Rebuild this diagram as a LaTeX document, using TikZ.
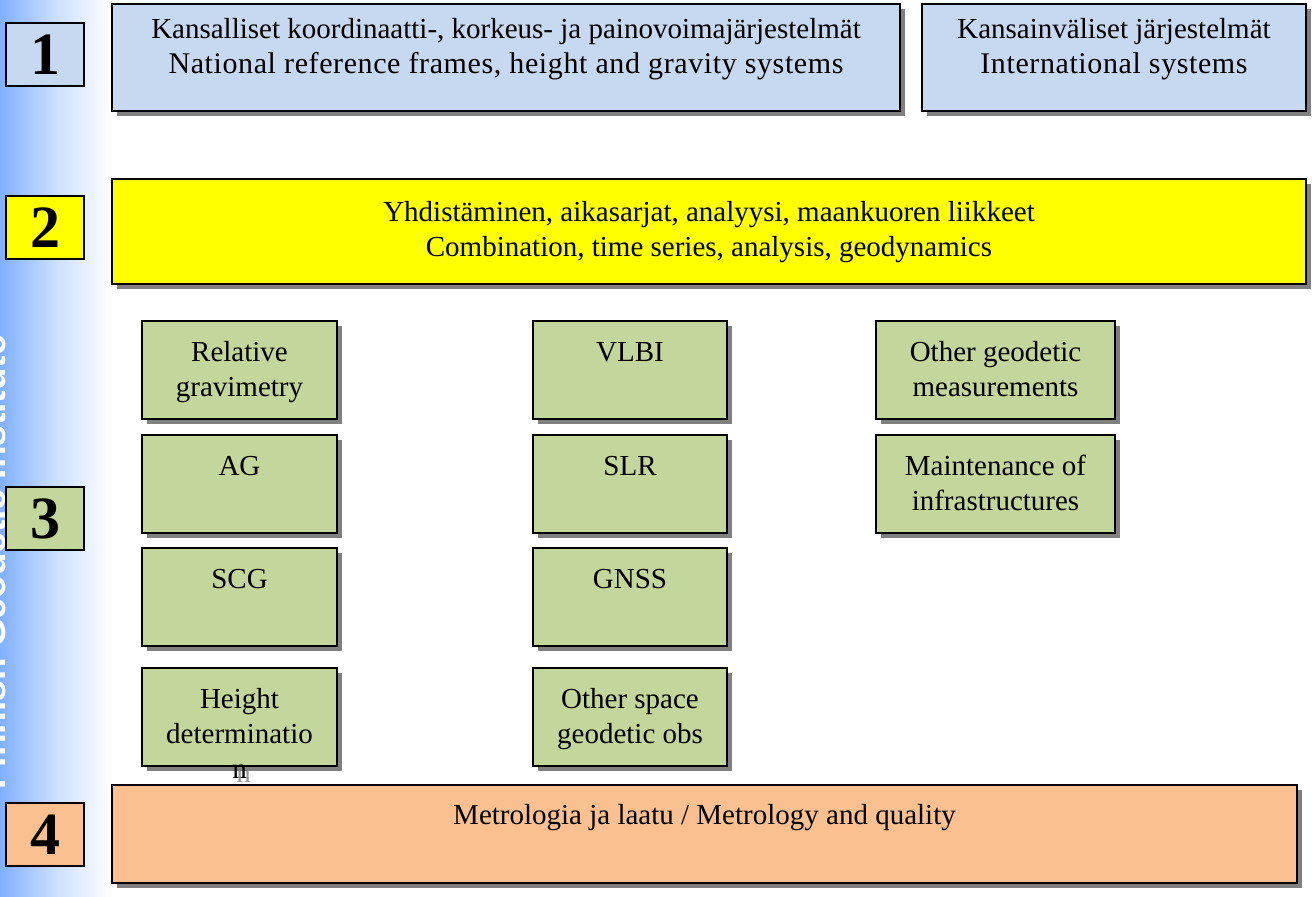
\documentclass[tikz,border=0pt]{standalone}
\usepackage{fontspec}
\setmainfont{Liberation Serif}
\newfontfamily\stripfont{Liberation Sans}
\usetikzlibrary{shadows}

\definecolor{frameblue}{RGB}{198,217,241}
\definecolor{combyellow}{RGB}{255,255,0}
\definecolor{obsgreen}{RGB}{195,214,155}
\definecolor{metorange}{RGB}{250,192,144}
\definecolor{stripblue}{RGB}{128,176,255}

% text hanging from the top of a box: width, height, top gap, lines
\newcommand{\boxtext}[4]{\parbox[c][#2][t]{#1}{\centering\vspace*{#3}\strut#4}}
\newcommand{\wideline}{\fontsize{15}{17.5}\selectfont\addfontfeature{LetterSpace=2}}

\begin{document}
\begin{tikzpicture}[x=0.5pt, y=-0.5pt, font=\fontsize{14.5}{17.5}\selectfont]
      \tikzstyle{panel}=[draw=black, line width=1pt, inner sep=0pt, anchor=north west,
        drop shadow={shadow xshift=2.5pt, shadow yshift=-2.5pt, fill=black!50, opacity=1}]
      \tikzstyle{obs}=[panel, fill=obsgreen]
      \tikzstyle{numbox}=[draw=black, line width=1pt, inner sep=0pt, anchor=north west,
        minimum width=39pt, minimum height=31.5pt, font=\fontsize{30}{32}\selectfont\bfseries]
      \useasboundingbox (0,0) rectangle (1312,896);
      % side strip
      \shade[left color=stripblue, right color=white, middle color=stripblue!40] (0,0) rectangle (112,896);
      \node[rotate=90, anchor=base west, text=white, inner sep=0pt,
        font=\stripfont\fontsize{18.5}{20}\selectfont\bfseries] (S_1) at (5,790) {Finnish Geodetic Institute};
      \node[anchor=base, inner sep=0pt, text=black!40] (G_n) at (243.5,782) {n};
      % row numbers
      \node[numbox, fill=frameblue]  (N_1) at (5,22)  {1};
      \node[numbox, fill=combyellow] (N_2) at (5,195) {2};
      \node[numbox, fill=obsgreen]   (N_3) at (5,486) {3};
      \node[numbox, fill=metorange]  (N_4) at (5,802) {4};
      % 1
      \node[panel, fill=frameblue] (R_1a) at (111,3) {\boxtext{394pt}{53.5pt}{4.75pt}{Kansalliset koordinaatti-, korkeus- ja painovoimajärjestelmät\\{\wideline National reference frames, height and gravity systems}}};
      \node[panel, fill=frameblue] (R_1b) at (921,3) {\boxtext{192pt}{53.5pt}{4.75pt}{Kansainväliset järjestelmät\\{\wideline International systems}}};
      % 2
      \node[panel, fill=combyellow] (R_2) at (111,178) {\boxtext{597pt}{52.5pt}{8.75pt}{Yhdistäminen, aikasarjat, analyysi, maankuoren liikkeet\\Combination, time series, analysis, geodynamics}};
      % 3
      \node[obs] (O_1) at (141,320) {\boxtext{97.5pt}{49pt}{7.75pt}{Relative\\gravimetry}};
      \node[obs] (O_2) at (141,434) {\boxtext{97.5pt}{49pt}{7.75pt}{AG}};
      \node[obs] (O_3) at (141,547) {\boxtext{97.5pt}{49pt}{7.75pt}{SCG}};
      \node[obs] (O_4) at (141,667) {\boxtext{97.5pt}{49pt}{7.75pt}{Height\\determinatio\\n}};
      \node[obs] (O_5) at (532,320) {\boxtext{97pt}{49pt}{7.75pt}{VLBI}};
      \node[obs] (O_6) at (532,434) {\boxtext{97pt}{49pt}{7.75pt}{SLR}};
      \node[obs] (O_7) at (532,547) {\boxtext{97pt}{49pt}{7.75pt}{GNSS}};
      \node[obs] (O_8) at (532,667) {\boxtext{97pt}{49pt}{7.75pt}{Other space\\geodetic obs}};
      \node[obs] (O_9) at (875,320) {\boxtext{119.5pt}{49pt}{7.75pt}{Other geodetic\\measurements}};
      \node[obs] (O_10) at (875,434) {\boxtext{119.5pt}{49pt}{7.75pt}{Maintenance of\\infrastructures}};
      % 4
      \node[panel, fill=metorange] (R_4) at (111,784) {\boxtext{592.5pt}{49pt}{7.25pt}{Metrologia ja laatu / Metrology and quality}};
    \end{tikzpicture}
\end{document}
